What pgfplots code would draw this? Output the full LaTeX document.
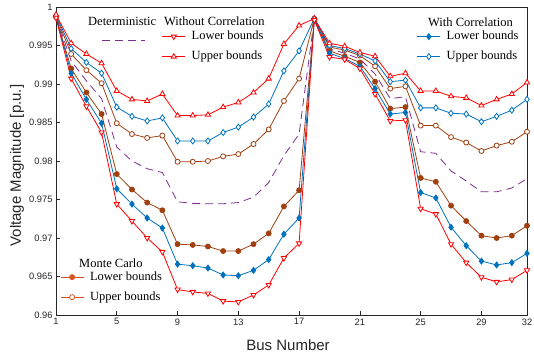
\documentclass[border=0pt]{standalone}
\usepackage{fontspec}
\setmainfont{Liberation Serif}
\newfontfamily\arialf{Liberation Sans}
\usepackage{pgfplots}
\pgfplotsset{compat=1.18}
\usepackage{pgfplotstable}
\definecolor{cred}{RGB}{255,0,0}
\definecolor{cblue}{RGB}{0,114,189}
\definecolor{cbrown}{RGB}{160,64,16}
\definecolor{corange}{RGB}{217,83,25}
\definecolor{cpurple}{RGB}{126,47,142}
\definecolor{caxis}{RGB}{38,38,38}

\pgfplotstableread{
bus RU BU MU D ML BL RL
1  0.9990 0.9989 0.9988 0.99875 0.9987 0.9987 0.9986
2  0.9953 0.9946 0.9939 0.9930 0.9920 0.9914 0.9907
3  0.9939 0.9928 0.9918 0.9904 0.9889 0.9880 0.9871
4  0.9927 0.9914 0.9901 0.9881 0.9861 0.9849 0.9837
5  0.9891 0.9870 0.9849 0.9818 0.9783 0.9764 0.9744
6  0.9880 0.9858 0.9835 0.9800 0.9763 0.9744 0.9722
7  0.9878 0.9852 0.9830 0.9790 0.9746 0.9726 0.9700
8  0.9887 0.9856 0.9833 0.9785 0.9736 0.9713 0.9682
9  0.9859 0.9826 0.9799 0.9747 0.9692 0.9666 0.9633
10 0.9859 0.9826 0.9799 0.9745 0.9691 0.9664 0.9630
11 0.9860 0.9826 0.9800 0.97445 0.9689 0.9661 0.9628
12 0.9870 0.9837 0.9806 0.97445 0.9683 0.9652 0.9618
13 0.9876 0.9844 0.9809 0.9746 0.9683 0.9651 0.9617
14 0.9889 0.9857 0.9822 0.9753 0.9692 0.9658 0.9626
15 0.9907 0.9874 0.9841 0.9772 0.9706 0.9672 0.9639
16 0.9952 0.9917 0.9878 0.9807 0.9741 0.9705 0.9674
17 0.9976 0.9943 0.9907 0.9835 0.9762 0.9726 0.9693
18 0.9985 0.9985 0.9985 0.99845 0.9984 0.9984 0.9983
19 0.9953 0.9950 0.9948 0.99455 0.9943 0.9940 0.9935
20 0.9949 0.9946 0.9944 0.9940 0.9936 0.9933 0.9932
21 0.9941 0.9939 0.9937 0.99325 0.9928 0.9923 0.9920
22 0.9936 0.9930 0.9923 0.9913 0.9903 0.9894 0.9887
23 0.9910 0.9903 0.9894 0.9881 0.9868 0.9861 0.9852
24 0.9914 0.9905 0.9897 0.98835 0.9870 0.9863 0.9853
25 0.9891 0.9869 0.9846 0.9812 0.9778 0.9759 0.9738
26 0.9891 0.9869 0.9846 0.9810 0.9773 0.9752 0.9731
27 0.9884 0.9862 0.9831 0.9787 0.9742 0.9714 0.9692
28 0.9882 0.9861 0.9824 0.9774 0.9722 0.9690 0.9668
29 0.9872 0.9851 0.9813 0.9760 0.9703 0.9670 0.9649
30 0.9880 0.9858 0.9820 0.9760 0.9700 0.9665 0.9643
31 0.9887 0.9866 0.9825 0.9765 0.9703 0.9668 0.9646
32 0.9902 0.9880 0.9838 0.9777 0.9716 0.9680 0.9658
}\datatable

\pgfplotsset{
  every axis/.append style={scale only axis, width=471pt, height=308pt, at={(0pt,0pt)}, anchor=south west},
  lgd/.style={legend style={draw=none, fill=none, inner sep=0pt, font=\fontsize{12.5}{14}\selectfont,
      cells={anchor=west}, row sep=4pt,
      /tikz/every odd column/.style={column sep=4pt},
      nodes={inner sep=2pt, text height=9pt, text depth=3pt}},
    legend image code/.code={\draw[mark repeat=2, mark phase=2, ##1] plot coordinates {(0pt,0pt) (11.5pt,0pt) (23pt,0pt)};}},
}

\begin{document}
\begin{tikzpicture}
\begin{axis}[
  xmin=1, xmax=32, ymin=0.96, ymax=1,
  xtick={1,5,9,13,17,21,25,29,32},
  xticklabels={1,5,9,13,17,21,25,29,32},
  ytick={0.96,0.965,0.97,0.975,0.98,0.985,0.99,0.995,1},
  yticklabels={0.96,0.965,0.97,0.975,0.98,0.985,0.99,0.995,1},
  tick align=inside, tick pos=left, major tick length=4pt,
  axis line style={caxis, line width=0.7pt},
  every tick/.style={caxis, line width=0.6pt},
  ticklabel style={font=\arialf\fontsize{9.3}{11}\selectfont, text=caxis},
  xlabel={Bus Number}, ylabel={Voltage Magnitude [p.u.]},
  label style={font=\arialf\fontsize{15}{17}\selectfont, text=caxis},
  x label style={at={(axis description cs:0.4926,-0.0974)}, anchor=center},
  y label style={at={(axis description cs:-0.0828,0.485)}, anchor=center},
  clip=false,
]
\addplot[cpurple, line width=0.8pt, dash pattern=on 8pt off 5pt] table[x=bus, y=D] {\datatable};
\addplot[cbrown, line width=0.8pt, mark=*, mark size=2.5pt, mark options={solid, fill=white}] table[x=bus, y=MU] {\datatable};
\addplot[cbrown, line width=0.8pt, mark=*, mark size=2.5pt, mark options={solid, fill=cbrown}] table[x=bus, y=ML] {\datatable};
\addplot[cblue, line width=0.8pt, mark=diamond*, mark size=3pt, mark options={solid, fill=white}] table[x=bus, y=BU] {\datatable};
\addplot[cblue, line width=0.8pt, mark=diamond*, mark size=3pt, mark options={solid, fill=cblue}] table[x=bus, y=BL] {\datatable};
\addplot[cred, line width=0.8pt, mark=triangle*, mark size=3pt, mark options={solid, fill=white}] table[x=bus, y=RU] {\datatable};
\addplot[cred, line width=0.8pt, mark=triangle*, mark size=3pt, mark options={solid, fill=white, rotate=180}] table[x=bus, y=RL] {\datatable};
\node[anchor=west, font=\fontsize{12.5}{14}\selectfont, inner sep=0pt] at (axis description cs:0.0679,0.9545) {Deterministic};
\node[anchor=west, font=\fontsize{12.5}{14}\selectfont, inner sep=0pt] at (axis description cs:0.2293,0.9545) {Without Correlation};
\node[anchor=west, font=\fontsize{12.5}{14}\selectfont, inner sep=0pt] at (axis description cs:0.7898,0.951) {With Correlation};
\node[anchor=west, font=\fontsize{12.5}{14}\selectfont, inner sep=0pt] at (axis description cs:0.0488,0.1688) {Monte Carlo};
\end{axis}

% Deterministic legend
\begin{axis}[hide axis, xmin=0, xmax=1, ymin=0, ymax=1, lgd,
  legend image code/.code={\draw[#1] (0pt,0pt) -- (43pt,0pt);},
  legend style={at={(axis description cs:0.0967,0.8929)}, anchor=west}]
\addlegendimage{cpurple, line width=0.8pt, dash pattern=on 8pt off 5pt}
\addlegendentry{}
\end{axis}

% Without correlation legend
\begin{axis}[hide axis, xmin=0, xmax=1, ymin=0, ymax=1, lgd,
  legend style={at={(axis description cs:0.2244,0.8713)}, anchor=west}]
\addlegendimage{cred, line width=0.8pt, mark=triangle*, mark size=3pt, mark options={solid, fill=white, rotate=180}}
\addlegendentry{Lower bounds}
\addlegendimage{cred, line width=0.8pt, mark=triangle*, mark size=3pt, mark options={solid, fill=white}}
\addlegendentry{Upper bounds}
\end{axis}

% With correlation legend
\begin{axis}[hide axis, xmin=0, xmax=1, ymin=0, ymax=1, lgd,
  legend style={at={(axis description cs:0.7658,0.8713)}, anchor=west}]
\addlegendimage{cblue, line width=0.8pt, mark=diamond*, mark size=3pt, mark options={solid, fill=cblue}}
\addlegendentry{Lower bounds}
\addlegendimage{cblue, line width=0.8pt, mark=diamond*, mark size=3pt, mark options={solid, fill=white}}
\addlegendentry{Upper bounds}
\end{axis}

% Monte Carlo legend
\begin{axis}[hide axis, xmin=0, xmax=1, ymin=0, ymax=1, lgd,
  legend style={at={(axis description cs:0.0085,0.0904)}, anchor=west}]
\addlegendimage{corange, line width=0.8pt, mark=*, mark size=2.5pt, mark options={solid, fill=corange}}
\addlegendentry{Lower bounds}
\addlegendimage{corange, line width=0.8pt, mark=*, mark size=2.5pt, mark options={solid, fill=white}}
\addlegendentry{Upper bounds}
\end{axis}

\pgfresetboundingbox
\path[use as bounding box] (-56pt,-40pt) rectangle (478pt,315pt);
\end{tikzpicture}
\end{document}
